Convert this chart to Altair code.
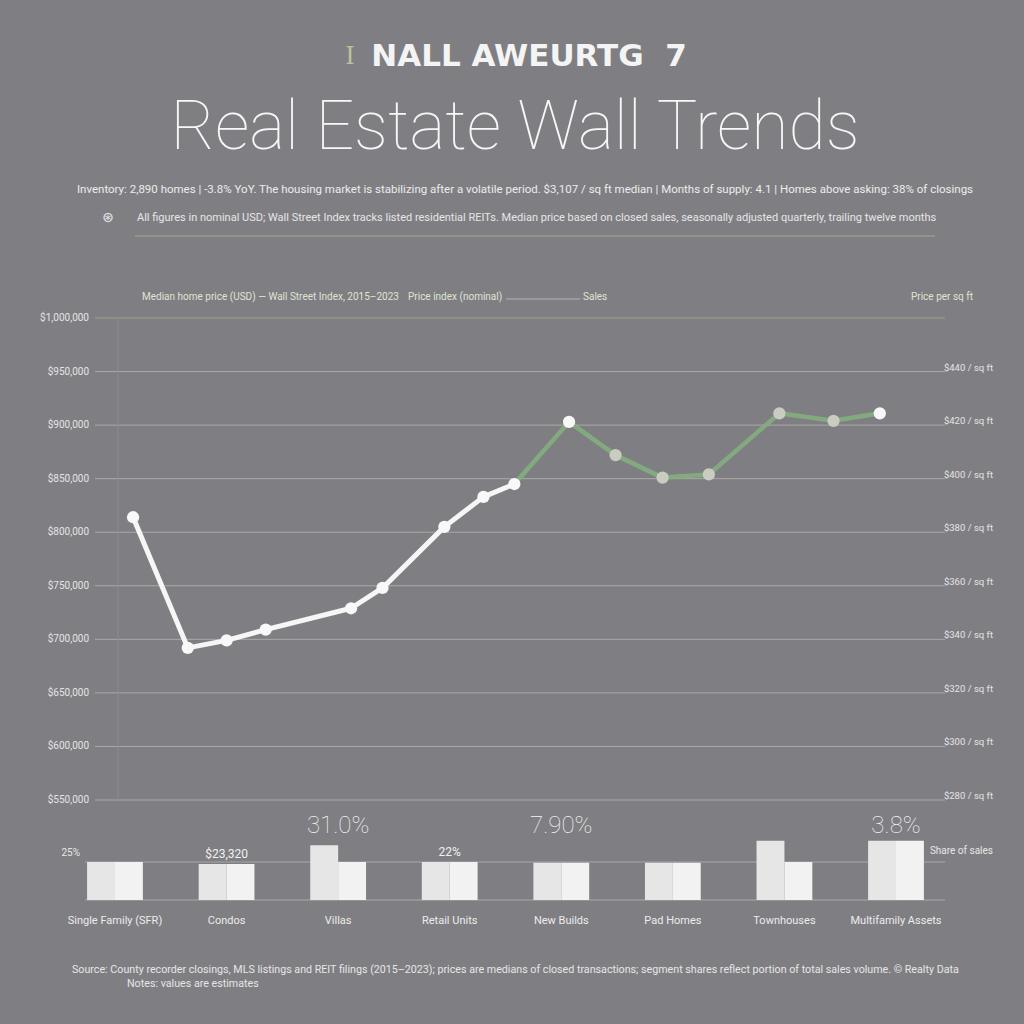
import altair as alt
import pandas as pd

BG = "#7f7f83"
FONT = "Roboto"

# ---------------- data ----------------
KICKER = "NALL AWEURTG\u00a0\u00a07"
TITLE = "Real Estate Wall Trends"
SUB1 = ("Inventory: 2,890 homes | -3.8% YoY. The housing market is stabilizing after a volatile period.  "
        "$3,107 / sq ft median | Months of supply: 4.1 | Homes above asking: 38% of closings")
SUB2 = ("All figures in nominal USD; Wall Street Index tracks listed residential REITs.  Median price based on "
        "closed sales, seasonally adjusted quarterly, trailing twelve months")
LEG1 = "Median home price (USD) — Wall Street Index, 2015–2023"
LEG2 = "Price index (nominal)"
LEG3 = "Sales"
LEG4 = "Price per sq ft"
FOOT1 = ("Source: County recorder closings, MLS listings and REIT filings (2015–2023); prices are medians of closed "
         "transactions; segment shares reflect portion of total sales volume. © Realty Data")
FOOT2 = "Notes: values are estimates"

dates = ["2015-03-01", "2015-10-01", "2016-03-01", "2016-08-01", "2017-07-01", "2017-11-01",
         "2018-07-01", "2018-12-01", "2019-04-01", "2019-11-01", "2020-05-01", "2020-11-01",
         "2021-05-01", "2022-02-01", "2022-09-01", "2023-03-01"]
prices = [814, 692, 699, 709, 729, 748, 805, 833, 845, 903, 872, 851, 854, 911, 904, 911]
point_tone = ["white", "white", "white", "white", "white", "white", "white", "white", "white",
              "white", "grey", "grey", "grey", "grey", "grey", "white"]
SPLIT = 8  # index where the line turns green

grid_values = [550, 600, 650, 700, 750, 800, 850, 900, 950, 1000]
left_labels = ["$550,000", "$600,000", "$650,000", "$700,000", "$750,000",
               "$800,000", "$850,000", "$900,000", "$950,000", "$1,000,000"]
right_values = [550, 600, 650, 700, 750, 800, 850, 900, 950]
right_labels = ["$280 / sq ft", "$300 / sq ft", "$320 / sq ft", "$340 / sq ft", "$360 / sq ft",
                "$380 / sq ft", "$400 / sq ft", "$420 / sq ft", "$440 / sq ft"]

categories = ["Single Family (SFR)", "Condos", "Villas", "Retail Units",
              "New Builds", "Pad Homes", "Townhouses", "Multifamily Assets"]
series = ["2019", "2023"]
share_2019 = [25, 23.7, 36, 25, 24.5, 24.5, 39, 39]
share_2023 = [25, 23.7, 25, 25, 24.5, 24.5, 25, 39]

small_ann_cats = ["Condos", "Retail Units"]
small_ann_text = ["$23,320", "22%"]
big_ann_cats = ["Villas", "New Builds", "Multifamily Assets"]
big_ann_text = ["31.0%", "7.90%", "3.8%"]

bar_grid = [0, 25]
bar_left_label = "25%"
bar_right_label = "Share of sales"

# ---------------- tables ----------------
line_df = pd.DataFrame({"date": dates, "price": prices, "tone": point_tone})
seg_a = line_df.iloc[:SPLIT + 1].assign(seg="a")
seg_b = line_df.iloc[SPLIT:].assign(seg="b")
grid_df = pd.DataFrame({"price": grid_values, "label": left_labels})
right_df = pd.DataFrame({"price": right_values, "label": right_labels})

bars_df = pd.DataFrame({
    "cat": categories * 2,
    "series": [series[0]] * len(categories) + [series[1]] * len(categories),
    "share": share_2019 + share_2023,
})
cat_df = pd.DataFrame({"cat": categories})
top_share = dict(zip(categories, [max(a, b) for a, b in zip(share_2019, share_2023)]))
small_df = pd.DataFrame({"cat": small_ann_cats, "text": small_ann_text,
                         "share": [top_share[c] for c in small_ann_cats]})
big_df = pd.DataFrame({"cat": big_ann_cats, "text": big_ann_text})
bar_grid_df = pd.DataFrame({"share": bar_grid})

# ---------------- scales ----------------
xs = alt.Scale(domain=["2015-01-01", "2024-01-01"], range=[118, 958])
ys = alt.Scale(domain=[550, 1000], range=[800, 318])
bxs = alt.Scale(domain=categories, range=[59.2, 951.8], paddingInner=0.5, paddingOuter=0.25)
bys = alt.Scale(domain=[0, 50], range=[900, 824])


def txt(s, x, y, size, color="#f2f2f2", weight="normal", align="center", font=FONT, baseline="middle"):
    return alt.Chart(pd.DataFrame({"t": [s]})).mark_text(
        fontSize=size, color=color, fontWeight=weight, align=align, font=font, baseline=baseline
    ).encode(text="t:N", x=alt.value(x), y=alt.value(y))


def hline(x1, x2, y, color, width=1, opacity=1.0):
    return alt.Chart(pd.DataFrame({"a": [0]})).mark_rule(
        color=color, strokeWidth=width, opacity=opacity
    ).encode(x=alt.value(x1), x2=alt.value(x2), y=alt.value(y))


layers = []

# header
layers.append(txt("I", 350, 57, 24, color="#b9c49a", weight="normal", font="DejaVu Serif"))
layers.append(txt(KICKER, 529, 57, 31, color="#f4f4f4", weight="bold", font="DejaVu Sans"))
layers.append(txt(TITLE, 515, 129, 68, color="#f7f7f7", weight=100))
layers.append(txt(SUB1, 525, 190, 11.5, color="#ececec", font="Roboto"))
layers.append(txt("⊛", 108, 218, 14, color="#e6e6e6", font="DejaVu Sans"))
layers.append(txt(SUB2, 137, 218, 11, color="#e6e6e6", align="left"))
layers.append(hline(135, 935, 236, "#9dab86", 1.2))

# legend row
layers.append(txt(LEG1, 142, 297, 10, color="#dfe3d2", align="left"))
layers.append(txt(LEG2, 408, 297, 10, color="#dfe3d2", align="left"))
layers.append(hline(506, 580, 299, "#b6b6b6", 1))
layers.append(txt(LEG3, 583, 297, 10, color="#dfe3d2", align="left"))
layers.append(txt(LEG4, 973, 297, 10, color="#dfe3d2", align="right"))

# line chart grid + labels
grid_color = alt.condition(alt.datum.price == 1000, alt.value("#9aa683"), alt.value("#aaaaac"))
layers.append(alt.Chart(grid_df).mark_rule(strokeWidth=1).encode(
    y=alt.Y("price:Q", scale=ys, axis=None), x=alt.value(95), x2=alt.value(945), color=grid_color))
layers.append(alt.Chart(grid_df).mark_text(align="right", baseline="middle", fontSize=10,
                                           color="#e4e4e4", font=FONT).encode(
    y=alt.Y("price:Q", scale=ys, axis=None), x=alt.value(89), text="label:N"))
layers.append(alt.Chart(right_df).mark_text(align="right", baseline="middle", fontSize=9.5,
                                            color="#e4e4e4", font=FONT, dy=-4).encode(
    y=alt.Y("price:Q", scale=ys, axis=None), x=alt.value(993), text="label:N"))
layers.append(alt.Chart(pd.DataFrame({"a": [0]})).mark_rule(color="#8b8b8e", strokeWidth=1).encode(
    x=alt.value(118), y=alt.value(318), y2=alt.value(800)))

# line
layers.append(alt.Chart(seg_b).mark_line(color="#84af7e", strokeWidth=4.5, opacity=0.9,
                                         strokeCap="round", strokeJoin="round").encode(
    x=alt.X("date:T", scale=xs, axis=None), y=alt.Y("price:Q", scale=ys, axis=None)))
layers.append(alt.Chart(seg_a).mark_line(color="#f6f6f6", strokeWidth=5,
                                         strokeCap="round", strokeJoin="round").encode(
    x=alt.X("date:T", scale=xs, axis=None), y=alt.Y("price:Q", scale=ys, axis=None)))
layers.append(alt.Chart(line_df).mark_circle(size=150, opacity=1).encode(
    x=alt.X("date:T", scale=xs, axis=None), y=alt.Y("price:Q", scale=ys, axis=None),
    color=alt.Color("tone:N", scale=alt.Scale(domain=["white", "grey"], range=["#f8f8f8", "#c9ccc1"]),
                    legend=None)))

# bar chart
layers.append(alt.Chart(bar_grid_df).mark_rule(color="#a9a9ab", strokeWidth=1).encode(
    y=alt.Y("share:Q", scale=bys, axis=None), x=alt.value(85), x2=alt.value(945)))
layers.append(alt.Chart(bars_df).mark_bar().encode(
    x=alt.X("cat:N", scale=bxs, axis=None),
    xOffset=alt.XOffset("series:N", scale=alt.Scale(domain=series, paddingInner=0, paddingOuter=0)),
    y=alt.Y("share:Q", scale=bys, axis=None), y2=alt.datum(0),
    color=alt.Color("series:N", scale=alt.Scale(domain=series, range=["#e6e6e6", "#f2f2f2"]), legend=None)))
layers.append(alt.Chart(cat_df).mark_text(fontSize=11, color="#ececec", font=FONT, baseline="middle").encode(
    x=alt.X("cat:N", scale=bxs, axis=None), y=alt.value(921), text="cat:N"))
layers.append(alt.Chart(small_df).mark_text(fontSize=12, color="#f0f0f0", font=FONT, baseline="bottom", dy=-3).encode(
    x=alt.X("cat:N", scale=bxs, axis=None), y=alt.Y("share:Q", scale=bys, axis=None), text="text:N"))
layers.append(alt.Chart(big_df).mark_text(fontSize=24, color="#f4f4f4", font=FONT, fontWeight=100,
                                          baseline="middle").encode(
    x=alt.X("cat:N", scale=bxs, axis=None), y=alt.value(826), text="text:N"))
layers.append(txt(bar_left_label, 80, 853, 10, color="#e6e6e6", align="right"))
layers.append(txt(bar_right_label, 993, 851, 10, color="#e6e6e6", align="right"))

# footer
layers.append(txt(FOOT1, 72, 970, 10.7, color="#e6e6e6", align="left"))
layers.append(txt(FOOT2, 127, 984, 10.7, color="#e6e6e6", align="left"))

chart = alt.layer(*layers).resolve_scale(
    x="independent", y="independent", color="independent"
).properties(
    width=1024, height=1024, background=BG, padding=0,
    autosize=alt.AutoSizeParams(type="none"),
).configure_view(stroke=None)

chart.save("out.html", embed_options={"renderer": "svg", "actions": False})
